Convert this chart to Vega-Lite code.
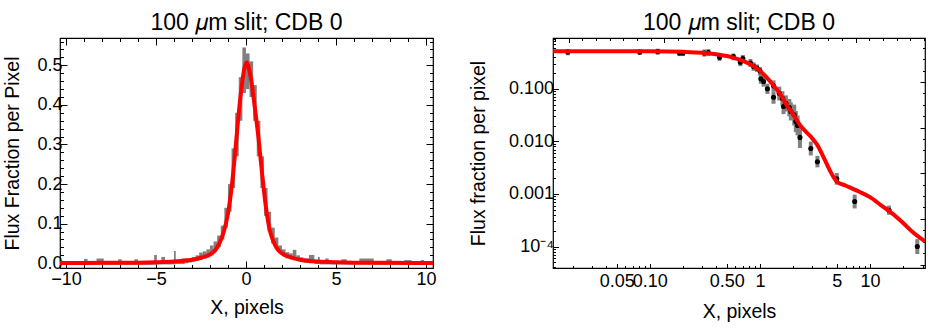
{
  "$schema": "https://vega.github.io/schema/vega-lite/v6.json",
  "padding": {"left": 2, "top": 10, "right": 0, "bottom": 0},
  "background": "white",
  "spacing": 120,
  "bounds": "flush",
  "config": {
    "font": "Liberation Sans",
    "view": {"stroke": "#000000", "strokeWidth": 1.2},
    "axis": {"grid": false, "domain": false, "tickColor": "#000000", "tickWidth": 1, "labelColor": "#000000", "titleColor": "#000000", "labelFont": "Liberation Sans", "titleFont": "Liberation Sans", "labelFontSize": 18, "titleFontSize": 19.5, "titleFontWeight": "normal"},
    "title": {"font": "Liberation Sans", "fontSize": 23, "fontWeight": "normal", "color": "#000000", "offset": 3}
  },
  "datasets": {
    "hist": [
      {"x0": -10.35, "x1": -9.0, "lo": -0.004, "hi": 0.003},
      {"x0": -9.0, "x1": -8.8, "lo": -0.004, "hi": 0.011},
      {"x0": -8.8, "x1": -8.3, "lo": -0.004, "hi": 0.004},
      {"x0": -8.3, "x1": -7.9, "lo": -0.004, "hi": 0.012},
      {"x0": -7.9, "x1": -7.1, "lo": -0.004, "hi": 0.004},
      {"x0": -7.1, "x1": -6.9, "lo": -0.004, "hi": 0.01},
      {"x0": -6.9, "x1": -6.2, "lo": -0.004, "hi": 0.005},
      {"x0": -6.2, "x1": -6.0, "lo": -0.004, "hi": 0.01},
      {"x0": -6.0, "x1": -5.1, "lo": -0.004, "hi": 0.005},
      {"x0": -5.1, "x1": -4.95, "lo": -0.004, "hi": 0.021},
      {"x0": -4.95, "x1": -4.7, "lo": -0.003, "hi": 0.006},
      {"x0": -4.7, "x1": -4.5, "lo": -0.003, "hi": 0.016},
      {"x0": -4.5, "x1": -4.0, "lo": -0.003, "hi": 0.007},
      {"x0": -4.0, "x1": -3.9, "lo": -0.003, "hi": 0.031},
      {"x0": -3.9, "x1": -3.6, "lo": -0.002, "hi": 0.008},
      {"x0": -3.6, "x1": -3.4, "lo": -0.002, "hi": 0.012},
      {"x0": -3.4, "x1": -3.2, "lo": 0.0, "hi": 0.012},
      {"x0": -3.2, "x1": -3.0, "lo": 0.002, "hi": 0.012},
      {"x0": -3.0, "x1": -2.8, "lo": 0.004, "hi": 0.015},
      {"x0": -2.8, "x1": -2.6, "lo": 0.006, "hi": 0.02},
      {"x0": -2.6, "x1": -2.4, "lo": 0.008, "hi": 0.027},
      {"x0": -2.4, "x1": -2.2, "lo": 0.012, "hi": 0.03},
      {"x0": -2.2, "x1": -2.0, "lo": 0.015, "hi": 0.035},
      {"x0": -2.0, "x1": -1.8, "lo": 0.02, "hi": 0.045},
      {"x0": -1.8, "x1": -1.6, "lo": 0.028, "hi": 0.055},
      {"x0": -1.6, "x1": -1.4, "lo": 0.04, "hi": 0.07},
      {"x0": -1.4, "x1": -1.2, "lo": 0.06, "hi": 0.095},
      {"x0": -1.2, "x1": -1.0, "lo": 0.09, "hi": 0.14},
      {"x0": -1.0, "x1": -0.8, "lo": 0.13, "hi": 0.2},
      {"x0": -0.8, "x1": -0.6, "lo": 0.19, "hi": 0.29},
      {"x0": -0.6, "x1": -0.4, "lo": 0.27, "hi": 0.38},
      {"x0": -0.4, "x1": -0.2, "lo": 0.36, "hi": 0.47},
      {"x0": -0.2, "x1": 0.0, "lo": 0.43, "hi": 0.545},
      {"x0": 0.0, "x1": 0.2, "lo": 0.44, "hi": 0.53},
      {"x0": 0.2, "x1": 0.4, "lo": 0.42, "hi": 0.51},
      {"x0": 0.4, "x1": 0.6, "lo": 0.36, "hi": 0.45},
      {"x0": 0.6, "x1": 0.8, "lo": 0.27, "hi": 0.36},
      {"x0": 0.8, "x1": 1.0, "lo": 0.19, "hi": 0.27},
      {"x0": 1.0, "x1": 1.2, "lo": 0.12, "hi": 0.19},
      {"x0": 1.2, "x1": 1.4, "lo": 0.08, "hi": 0.13},
      {"x0": 1.4, "x1": 1.6, "lo": 0.05, "hi": 0.09},
      {"x0": 1.6, "x1": 1.8, "lo": 0.035, "hi": 0.065},
      {"x0": 1.8, "x1": 2.0, "lo": 0.025, "hi": 0.045},
      {"x0": 2.0, "x1": 2.2, "lo": 0.018, "hi": 0.035},
      {"x0": 2.2, "x1": 2.4, "lo": 0.012, "hi": 0.028},
      {"x0": 2.4, "x1": 2.6, "lo": 0.01, "hi": 0.025},
      {"x0": 2.6, "x1": 2.8, "lo": 0.008, "hi": 0.034},
      {"x0": 2.8, "x1": 3.0, "lo": 0.006, "hi": 0.02},
      {"x0": 3.0, "x1": 3.2, "lo": 0.004, "hi": 0.015},
      {"x0": 3.2, "x1": 3.5, "lo": 0.002, "hi": 0.012},
      {"x0": 3.5, "x1": 3.8, "lo": 0.0, "hi": 0.021},
      {"x0": 3.8, "x1": 4.0, "lo": -0.002, "hi": 0.008},
      {"x0": 4.0, "x1": 4.1, "lo": -0.002, "hi": 0.016},
      {"x0": 4.1, "x1": 4.4, "lo": -0.003, "hi": 0.006},
      {"x0": 4.4, "x1": 4.6, "lo": -0.003, "hi": 0.012},
      {"x0": 4.6, "x1": 5.3, "lo": -0.003, "hi": 0.005},
      {"x0": 5.3, "x1": 5.6, "lo": -0.003, "hi": 0.01},
      {"x0": 5.6, "x1": 6.3, "lo": -0.003, "hi": 0.005},
      {"x0": 6.3, "x1": 7.1, "lo": -0.003, "hi": 0.012},
      {"x0": 7.1, "x1": 7.8, "lo": -0.004, "hi": 0.004},
      {"x0": 7.8, "x1": 8.1, "lo": -0.004, "hi": 0.01},
      {"x0": 8.1, "x1": 8.8, "lo": -0.004, "hi": 0.004},
      {"x0": 8.8, "x1": 9.2, "lo": -0.004, "hi": 0.008},
      {"x0": 9.2, "x1": 9.7, "lo": -0.004, "hi": 0.003},
      {"x0": 9.7, "x1": 9.9, "lo": -0.004, "hi": 0.008},
      {"x0": 9.9, "x1": 10.4, "lo": -0.004, "hi": 0.003}
    ],
    "fitLin": [
      {"x": -10.35, "y": 0.0008}, {"x": -8, "y": 0.001}, {"x": -6, "y": 0.0015}, {"x": -5, "y": 0.0025},
      {"x": -4, "y": 0.0045}, {"x": -3, "y": 0.009}, {"x": -2.5, "y": 0.014}, {"x": -2, "y": 0.022},
      {"x": -1.75, "y": 0.031}, {"x": -1.5, "y": 0.048}, {"x": -1.25, "y": 0.077}, {"x": -1.0, "y": 0.125},
      {"x": -0.8, "y": 0.19}, {"x": -0.6, "y": 0.28}, {"x": -0.4, "y": 0.38}, {"x": -0.2, "y": 0.46},
      {"x": -0.1, "y": 0.49}, {"x": 0.05, "y": 0.507}, {"x": 0.2, "y": 0.485}, {"x": 0.3, "y": 0.46},
      {"x": 0.5, "y": 0.39}, {"x": 0.7, "y": 0.315}, {"x": 0.9, "y": 0.225}, {"x": 1.1, "y": 0.145},
      {"x": 1.3, "y": 0.088}, {"x": 1.5, "y": 0.058}, {"x": 1.75, "y": 0.036}, {"x": 2, "y": 0.025},
      {"x": 2.5, "y": 0.015}, {"x": 3, "y": 0.009}, {"x": 4, "y": 0.0045}, {"x": 5, "y": 0.0025},
      {"x": 6, "y": 0.0015}, {"x": 8, "y": 0.001}, {"x": 10.4, "y": 0.0008}
    ],
    "pts": [
      {"x": 0.018, "y": 0.5, "lo": 0.435, "hi": 0.574},
      {"x": 0.081, "y": 0.5, "lo": 0.44, "hi": 0.57},
      {"x": 0.118, "y": 0.51, "lo": 0.45, "hi": 0.58},
      {"x": 0.186, "y": 0.48, "lo": 0.42, "hi": 0.55},
      {"x": 0.2, "y": 0.48, "lo": 0.42, "hi": 0.55},
      {"x": 0.313, "y": 0.48, "lo": 0.41, "hi": 0.56},
      {"x": 0.34, "y": 0.49, "lo": 0.42, "hi": 0.57},
      {"x": 0.43, "y": 0.4, "lo": 0.34, "hi": 0.46},
      {"x": 0.574, "y": 0.41, "lo": 0.35, "hi": 0.47},
      {"x": 0.664, "y": 0.32, "lo": 0.27, "hi": 0.37},
      {"x": 0.7, "y": 0.375, "lo": 0.32, "hi": 0.44},
      {"x": 0.82, "y": 0.31, "lo": 0.26, "hi": 0.37},
      {"x": 0.877, "y": 0.267, "lo": 0.22, "hi": 0.32},
      {"x": 0.94, "y": 0.248, "lo": 0.21, "hi": 0.29},
      {"x": 1.0, "y": 0.22, "lo": 0.18, "hi": 0.26},
      {"x": 1.02, "y": 0.155, "lo": 0.125, "hi": 0.19},
      {"x": 1.08, "y": 0.138, "lo": 0.11, "hi": 0.17},
      {"x": 1.17, "y": 0.1, "lo": 0.08, "hi": 0.125},
      {"x": 1.33, "y": 0.114, "lo": 0.09, "hi": 0.145},
      {"x": 1.33, "y": 0.069, "lo": 0.052, "hi": 0.09},
      {"x": 1.5, "y": 0.082, "lo": 0.06, "hi": 0.11},
      {"x": 1.6, "y": 0.066, "lo": 0.048, "hi": 0.09},
      {"x": 1.64, "y": 0.046, "lo": 0.033, "hi": 0.064},
      {"x": 1.72, "y": 0.053, "lo": 0.037, "hi": 0.075},
      {"x": 1.85, "y": 0.044, "lo": 0.03, "hi": 0.064},
      {"x": 1.91, "y": 0.037, "lo": 0.025, "hi": 0.055},
      {"x": 2.05, "y": 0.032, "lo": 0.02, "hi": 0.05},
      {"x": 2.12, "y": 0.024, "lo": 0.015, "hi": 0.038},
      {"x": 2.2, "y": 0.02, "lo": 0.013, "hi": 0.031},
      {"x": 2.31, "y": 0.0119, "lo": 0.0075, "hi": 0.019},
      {"x": 2.9, "y": 0.0073, "lo": 0.0054, "hi": 0.0099},
      {"x": 3.33, "y": 0.0041, "lo": 0.0032, "hi": 0.0053},
      {"x": 4.99, "y": 0.00195, "lo": 0.0015, "hi": 0.0025},
      {"x": 7.26, "y": 0.00072, "lo": 0.00053, "hi": 0.00097},
      {"x": 14.9, "y": 0.00049, "lo": 0.0004, "hi": 0.0006},
      {"x": 26.9, "y": 0.0001, "lo": 0.000072, "hi": 0.000138}
    ],
    "fitLog": [
      {"x": 0.0132, "y": 0.52}, {"x": 0.05, "y": 0.52}, {"x": 0.1, "y": 0.518}, {"x": 0.2, "y": 0.505},
      {"x": 0.3, "y": 0.485}, {"x": 0.4, "y": 0.455}, {"x": 0.5, "y": 0.42}, {"x": 0.6, "y": 0.38},
      {"x": 0.7, "y": 0.34}, {"x": 0.8, "y": 0.3}, {"x": 0.9, "y": 0.26}, {"x": 1.0, "y": 0.22},
      {"x": 1.2, "y": 0.15}, {"x": 1.4, "y": 0.102}, {"x": 1.6, "y": 0.068}, {"x": 1.8, "y": 0.045},
      {"x": 2.0, "y": 0.033}, {"x": 2.33, "y": 0.02}, {"x": 2.6, "y": 0.0155}, {"x": 2.9, "y": 0.0123},
      {"x": 3.33, "y": 0.0085}, {"x": 3.84, "y": 0.0047}, {"x": 4.4, "y": 0.0026}, {"x": 5.0, "y": 0.0017},
      {"x": 6, "y": 0.00145}, {"x": 7, "y": 0.00125}, {"x": 8, "y": 0.0011}, {"x": 10, "y": 0.00087},
      {"x": 13, "y": 0.00058}, {"x": 15, "y": 0.00047}, {"x": 20, "y": 0.00028}, {"x": 25, "y": 0.00018},
      {"x": 31.6, "y": 0.000125}
    ]
  },
  "hconcat": [
    {
      "width": 373,
      "height": 230,
      "title": {"text": "100 𝜇m slit; CDB 0"},
      "layer": [
        {
          "data": {"name": "hist"},
          "mark": {"type": "rect", "color": "#808080", "clip": true},
          "encoding": {
            "x": {"field": "x0", "type": "quantitative", "scale": {"domain": [-10.33, 10.39], "nice": false, "zero": false},
              "axis": {"orient": "bottom", "title": "X, pixels", "values": [-10,-9,-8,-7,-6,-5,-4,-3,-2,-1,0,1,2,3,4,5,6,7,8,9,10], "format": "d",
                "labelExpr": "datum.value % 5 == 0 ? datum.label : ''",
                "tickSize": {"condition": {"test": "datum.value % 5 != 0", "value": -3.5}, "value": -7},
                "labelPadding": 9, "titlePadding": 10}},
            "x2": {"field": "x1"},
            "y": {"field": "lo", "type": "quantitative", "scale": {"domain": [-0.012, 0.569], "nice": false, "zero": false},
              "axis": {"orient": "left", "title": "Flux Fraction per Pixel", "values": [0,0.02,0.04,0.06,0.08,0.1,0.12,0.14,0.16,0.18,0.2,0.22,0.24,0.26,0.28,0.3,0.32,0.34,0.36,0.38,0.4,0.42,0.44,0.46,0.48,0.5,0.52,0.54,0.56], "format": ".1f",
                "labelExpr": "abs(datum.value*10 - round(datum.value*10)) < 0.001 ? datum.label : ''",
                "tickSize": {"condition": {"test": "abs(datum.value*10 - round(datum.value*10)) > 0.001", "value": -3.5}, "value": -7},
                "labelPadding": 5, "titlePadding": 14}},
            "y2": {"field": "hi"}
          }
        },
        {
          "data": {"name": "fitLin"},
          "mark": {"type": "line", "color": "#ff0000", "strokeWidth": 4, "clip": true, "interpolate": "monotone"},
          "encoding": {
            "x": {"field": "x", "type": "quantitative", "scale": {"domain": [-10.33, 10.39], "nice": false, "zero": false},
              "axis": {"orient": "top", "title": null, "labels": false, "values": [-10,-9,-8,-7,-6,-5,-4,-3,-2,-1,0,1,2,3,4,5,6,7,8,9,10],
                "tickSize": {"condition": {"test": "datum.value % 5 != 0", "value": -3.5}, "value": -7}}},
            "y": {"field": "y", "type": "quantitative", "scale": {"domain": [-0.012, 0.569], "nice": false, "zero": false},
              "axis": {"orient": "right", "title": null, "labels": false, "values": [0,0.02,0.04,0.06,0.08,0.1,0.12,0.14,0.16,0.18,0.2,0.22,0.24,0.26,0.28,0.3,0.32,0.34,0.36,0.38,0.4,0.42,0.44,0.46,0.48,0.5,0.52,0.54,0.56],
                "tickSize": {"condition": {"test": "abs(datum.value*10 - round(datum.value*10)) > 0.001", "value": -3.5}, "value": -7}}}
          }
        }
      ],
      "resolve": {"axis": {"x": "independent", "y": "independent"}}
    },
    {
      "width": 372,
      "height": 230,
      "title": {"text": "100 𝜇m slit; CDB 0"},
      "layer": [
        {
          "data": {"name": "pts"},
          "mark": {"type": "rule", "color": "#808080", "strokeWidth": 4},
          "encoding": {
            "x": {"field": "x", "type": "quantitative", "scale": {"type": "log", "domain": [0.0132, 31.6], "nice": false},
              "axis": {"orient": "bottom", "title": "X, pixels", "labelOverlap": false,
                "values": [0.02,0.03,0.04,0.05,0.06,0.07,0.08,0.09,0.1,0.2,0.3,0.4,0.5,0.6,0.7,0.8,0.9,1,2,3,4,5,6,7,8,9,10,20,30],
                "labelExpr": "datum.value == 0.05 ? '0.05' : datum.value == 0.1 ? '0.10' : datum.value == 0.5 ? '0.50' : datum.value == 1 ? '1' : datum.value == 5 ? '5' : datum.value == 10 ? '10' : ''",
                "tickSize": {"condition": {"test": "indexof([0.05,0.1,0.5,1,5,10], datum.value) < 0", "value": -2.5}, "value": -4.5},
                "labelPadding": 9, "titlePadding": 10}},
            "y": {"field": "lo", "type": "quantitative", "scale": {"type": "log", "domain": [0.000039, 0.927], "nice": false},
              "axis": {"orient": "left", "title": "Flux fraction per pixel",
                "values": [0.00004,0.00005,0.00006,0.00007,0.00008,0.00009,0.0001,0.0002,0.0003,0.0004,0.0005,0.0006,0.0007,0.0008,0.0009,0.001,0.002,0.003,0.004,0.005,0.006,0.007,0.008,0.009,0.01,0.02,0.03,0.04,0.05,0.06,0.07,0.08,0.09,0.1,0.2,0.3,0.4,0.5,0.6,0.7,0.8,0.9],
                "labelExpr": "datum.value == 0.1 ? '0.100' : datum.value == 0.01 ? '0.010' : datum.value == 0.001 ? '0.001' : datum.value == 0.0001 ? '10⁻⁴' : ''",
                "tickSize": {"condition": {"test": "indexof([0.1,0.01,0.001,0.0001], datum.value) < 0", "value": -2.5}, "value": -5.5},
                "labelPadding": 5, "titlePadding": 20}},
            "y2": {"field": "hi"}
          }
        },
        {
          "data": {"name": "pts"},
          "mark": {"type": "point", "filled": true, "color": "#000000", "opacity": 1, "size": 26},
          "encoding": {
            "x": {"field": "x", "type": "quantitative", "scale": {"type": "log", "domain": [0.0132, 31.6], "nice": false}, "axis": null},
            "y": {"field": "y", "type": "quantitative", "scale": {"type": "log", "domain": [0.000039, 0.927], "nice": false}, "axis": null}
          }
        },
        {
          "data": {"name": "fitLog"},
          "mark": {"type": "line", "color": "#ff0000", "strokeWidth": 4, "clip": true, "interpolate": "monotone"},
          "encoding": {
            "x": {"field": "x", "type": "quantitative", "scale": {"type": "log", "domain": [0.0132, 31.6], "nice": false},
              "axis": {"orient": "top", "title": null, "labels": false,
                "values": [0.01376,0.018316,0.02437,0.03243,0.04315,0.05743,0.07642,0.1017,0.13534,0.18009,0.23965,0.3189,0.42437,0.56472,0.75148,1,1.33071,1.77079,2.35642,3.13571,4.17273,5.5527,7.38906,9.83271,13.0845,17.4117,23.17,30.8322],
                "tickSize": {"condition": {"test": "indexof([0.018316,0.13534,1,7.38906], datum.value) < 0", "value": -2.5}, "value": -4.5}}},
            "y": {"field": "y", "type": "quantitative", "scale": {"type": "log", "domain": [0.000039, 0.927], "nice": false},
              "axis": {"orient": "right", "title": null, "labels": false,
                "values": [0.0000454,0.000074852,0.00012341,0.00020347,0.00033546,0.00055308,0.00091188,0.0015034,0.0024788,0.0040868,0.0067379,0.011109,0.018316,0.030197,0.049787,0.082085,0.135335,0.22313,0.36788,0.60653],
                "tickSize": {"condition": {"test": "indexof([0.0000454,0.00033546,0.0024788,0.018316,0.135335], datum.value) < 0", "value": -2.5}, "value": -5}}}
          }
        }
      ],
      "resolve": {"axis": {"x": "independent", "y": "independent"}}
    }
  ]
}
